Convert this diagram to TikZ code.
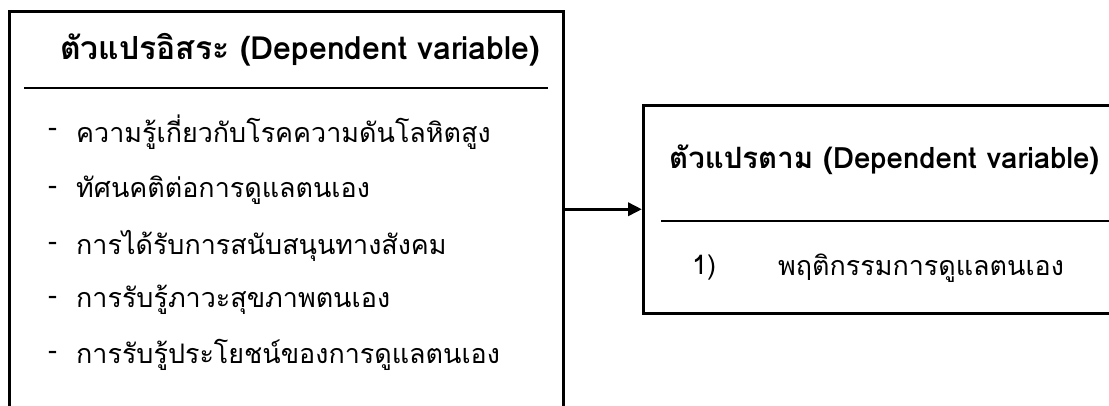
\documentclass[tikz,border=0pt]{standalone}
\usepackage{fontspec}
\newfontfamily\thai[Script=Thai]{Loma}
\usetikzlibrary{arrows.meta}
\begin{document}
\begin{tikzpicture}[x=1bp,y=-1bp,
  box/.style={draw,line width=2.5bp,rectangle,inner sep=0pt},
  sepline/.style={line width=2bp},
  ttl/.style={font=\thai\bfseries\fontsize{32}{36}\selectfont,anchor=west,inner sep=0pt},
  ttlr/.style={font=\thai\bfseries\fontsize{29.5}{34}\selectfont,anchor=west,inner sep=0pt},
  itm/.style={font=\thai\fontsize{27}{32}\selectfont,anchor=west,inner sep=0pt},
  link/.style={line width=3.5bp,-{Triangle[length=14bp,width=13bp]}}]
\useasboundingbox (0,0) rectangle (1109,405);
\clip (0,0) rectangle (1109,405);
% boxes
\node[box,anchor=north west,minimum width=554bp,minimum height=420bp] (indep) at (8,10) {};
\node[box,anchor=north west,minimum width=520bp,minimum height=208bp] (dep) at (642,104) {};
% left box content
\node[ttl] (t1) at (60,50) {ตัวแปรอิสระ (Dependent variable)};
\coordinate (s1a) at (24,88);
\coordinate (s1b) at (548,88);
\draw[sepline] (s1a) -- (s1b);
\foreach \y/\txt [count=\i] in {132/ความรู้เกี่ยวกับโรคความดันโลหิตสูง,
                               190/ทัศนคติต่อการดูแลตนเอง,
                               246/การได้รับการสนับสนุนทางสังคม,
                               300/การรับรู้ภาวะสุขภาพตนเอง,
                               355/การรับรู้ประโยชน์ของการดูแลตนเอง}{
  \node[itm] (d\i) at (48,\y) {-};
  \node[itm] (i\i) at (76,\y) {\txt};
}
% right box content
\node[ttlr] (t2) at (669,160) {ตัวแปรตาม (Dependent variable)};
\coordinate (s2a) at (661,221);
\coordinate (s2b) at (1115,221);
\draw[sepline] (s2a) -- (s2b);
\node[itm] (n1) at (692,268) {1)};
\node[itm] (r1) at (778,268) {พฤติกรรมการดูแลตนเอง};
% connector
\draw[link] (indep.east |- dep.west) -- (dep.west);
\end{tikzpicture}
\end{document}
